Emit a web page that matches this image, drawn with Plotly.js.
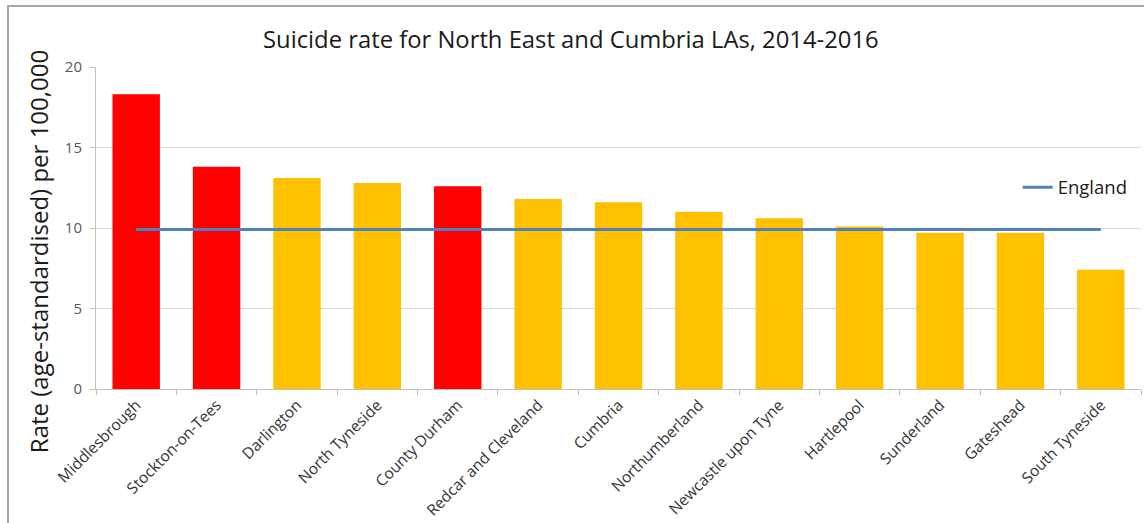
<!DOCTYPE html>
<html>
<head>
<meta charset="utf-8">
<script src="https://cdn.plot.ly/plotly-3.0.1.min.js"></script>
<style>
  html, body { margin: 0; padding: 0; background: #fff; }
  #wrap { position: relative; width: 1144px; height: 523px; overflow: hidden; }
  #chart { position: absolute; left: 0; top: 0; width: 1144px; height: 523px; }
  #frame { position: absolute; left: 7px; top: 5px; width: 1160px; height: 540px;
           border-left: 2px solid #a6a6a6; border-top: 2px solid #a6a6a6; pointer-events: none; }
</style>
</head>
<body>
<div id="wrap">
  <div id="chart"></div>
  <div id="frame"></div>
</div>
<script>
// Local authorities (categories)
const areas = [
  "Middlesbrough", "Stockton-on-Tees", "Darlington", "North Tyneside", "County Durham",
  "Redcar and Cleveland", "Cumbria", "Northumberland", "Newcastle upon Tyne",
  "Hartlepool", "Sunderland", "Gateshead", "South Tyneside"
];
// Suicide rate (age-standardised) per 100,000, 2014-2016
const rates = [18.3, 13.8, 13.1, 12.8, 12.6, 11.8, 11.6, 11.0, 10.6, 10.1, 9.7, 9.7, 7.4];
// Significantly higher than England
const sigHigher = [true, true, false, false, true, false, false, false, false, false, false, false, false];
// England rate
const england = [9.9, 9.9, 9.9, 9.9, 9.9, 9.9, 9.9, 9.9, 9.9, 9.9, 9.9, 9.9, 9.9];
const yTicks = [0, 5, 10, 15, 20];

const RED = "#FF0000", AMBER = "#FFC000", BLUE = "#4F81BD";
const FONT = "Open Sans, DejaVu Sans, sans-serif";

const barTrace = {
  type: "bar",
  x: areas,
  y: rates,
  marker: { color: sigHigher.map(s => s ? RED : AMBER) },
  showlegend: false,
  hoverinfo: "x+y"
};
const engTrace = {
  type: "scatter",
  mode: "lines",
  x: areas,
  y: england,
  name: "England",
  line: { color: BLUE, width: 3 }
};

const layout = {
  width: 1144,
  height: 523,
  margin: { l: 96, r: 3, t: 67, b: 134 },
  paper_bgcolor: "#ffffff",
  plot_bgcolor: "#ffffff",
  font: { family: FONT, color: "#404040" },
  bargap: 0.41,
  title: {
    text: "Suicide rate for North East and Cumbria LAs, 2014-2016",
    font: { family: FONT, size: 23.8, color: "#1a1a1a" },
    x: 0.499, xref: "container", xanchor: "center",
    y: 0.925, yref: "container", yanchor: "middle"
  },
  xaxis: {
    type: "category",
    tickangle: -45,
    tickfont: { family: FONT, size: 15.5, color: "#333333" },
    showgrid: false,
    showline: true,
    linecolor: "#bfbfbf",
    linewidth: 1,
    ticks: "outside",
    tickson: "boundaries",
    ticklen: 5,
    tickcolor: "#bfbfbf",
    zeroline: false
  },
  yaxis: {
    range: [0, 20],
    tickvals: yTicks,
    ticktext: yTicks.map(String),
    tickfont: { family: FONT, size: 15, color: "#595959" },
    ticklabelstandoff: 5,
    showgrid: true,
    gridcolor: "#d9d9d9",
    gridwidth: 1,
    showline: true,
    linecolor: "#bfbfbf",
    linewidth: 1,
    ticks: "outside",
    ticklen: 5,
    tickcolor: "#bfbfbf",
    zeroline: false
  },
  legend: {
    x: 0.882, xanchor: "left",
    y: 0.625, yanchor: "middle",
    bgcolor: "rgba(0,0,0,0)",
    font: { family: FONT, size: 18.5, color: "#1a1a1a" },
    itemwidth: 30,
    tracegroupgap: 0
  },
  annotations: [{
    text: "Rate (age-standardised) per 100,000",
    xref: "paper", yref: "paper",
    x: -0.0555, xanchor: "center",
    y: 0.425, yanchor: "middle",
    textangle: -90,
    showarrow: false,
    font: { family: FONT, size: 24, color: "#1a1a1a" }
  }]
};

Plotly.newPlot("chart", [barTrace, engTrace], layout, { displayModeBar: false, staticPlot: true });
</script>
</body>
</html>
